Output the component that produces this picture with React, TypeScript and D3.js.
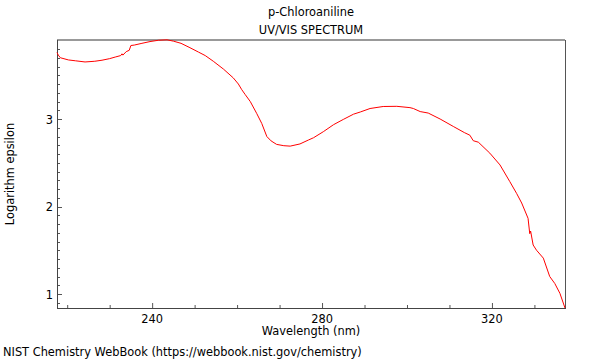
import { useEffect, useRef } from "react";
import * as d3 from "d3";

// wavelength (nm)
const wavelengths = [
  217.6, 217.9, 218.4, 220.3, 222.0, 224.2, 226.5, 228.2, 230.0, 231.3,
  232.6, 232.9, 233.1, 233.9, 234.6, 235.0, 235.8, 237.6, 239.5, 241.5,
  243.5, 245.0, 246.8, 248.9, 250.9, 252.5, 254.4, 256.8, 259.1, 260.3,
  261.1, 261.9, 263.1, 264.6, 265.8, 267.0, 268.0, 269.3, 271.0, 272.5,
  274.8, 276.8, 278.0, 280.3, 282.7, 285.0, 287.4, 289.0, 291.3, 294.4,
  297.6, 300.7, 301.5, 303.1, 305.0, 307.8, 310.9, 313.5, 314.8, 315.6,
  316.8, 319.5, 321.9, 324.2, 325.8, 327.0, 328.5, 328.9, 329.1, 329.7,
  330.5, 332.1, 333.6, 334.8, 336.0, 337.2,
];

// log(epsilon)
const logEpsilon = [
  3.76, 3.73, 3.70, 3.675, 3.665, 3.652, 3.66, 3.672, 3.69, 3.708,
  3.725, 3.745, 3.73, 3.77, 3.785, 3.84, 3.845, 3.865, 3.885, 3.9,
  3.905, 3.89, 3.865, 3.815, 3.765, 3.725, 3.66, 3.57, 3.47, 3.4,
  3.335, 3.28, 3.2, 3.065, 2.95, 2.8, 2.75, 2.71, 2.695, 2.69,
  2.715, 2.76, 2.786, 2.855, 2.935, 2.995, 3.055, 3.08, 3.12, 3.143,
  3.145, 3.13, 3.12, 3.085, 3.068, 3.0, 2.915, 2.845, 2.815, 2.752,
  2.735, 2.61, 2.475, 2.285, 2.15, 2.04, 1.865, 1.69, 1.72, 1.56,
  1.5, 1.41, 1.2, 1.12, 1.008, 0.84,
];

const xTicks = [240, 280, 320];
const yTicks = [1, 2, 3];
const titleLines = ["p-Chloroaniline", "UV/VIS SPECTRUM"];

export default function App() {
  const ref = useRef<SVGSVGElement>(null);

  useEffect(() => {
    const width = 600;
    const height = 360;
    const m = { top: 40, right: 35, bottom: 52, left: 57 };
    const font = "DejaVu Sans, sans-serif";
    const fs = 11.4;

    const svg = d3.select(ref.current)
      .attr("width", width)
      .attr("height", height);
    svg.selectAll("*").remove();

    const x = d3.scaleLinear()
      .domain([217.6, 337.2])
      .range([m.left, width - m.right]);
    const y = d3.scaleLinear()
      .domain([0.84, 3.903])
      .range([height - m.bottom, m.top]);

    const g = svg.append("g");

    // minor + major ticks, pointing inward
    const xMinor = d3.range(220, 337, 10);
    g.selectAll(".xt")
      .data(xMinor)
      .join("line")
      .attr("x1", d => x(d) + 0.5)
      .attr("x2", d => x(d) + 0.5)
      .attr("y1", height - m.bottom)
      .attr("y2", d => height - m.bottom - (xTicks.includes(d) ? 5 : 3))
      .attr("stroke", "#555");

    const yMinor = d3.range(9, 39).map(d => d / 10);
    g.selectAll(".yt")
      .data(yMinor)
      .join("line")
      .attr("y1", d => Math.round(y(d)) + 0.5)
      .attr("y2", d => Math.round(y(d)) + 0.5)
      .attr("x1", m.left)
      .attr("x2", d => m.left + (yTicks.includes(Math.round(d * 10) / 10) ? 5 : 3))
      .attr("stroke", "#555");

    // frame
    g.append("line")
      .attr("x1", m.left).attr("x2", width - m.right)
      .attr("y1", m.top).attr("y2", m.top)
      .attr("stroke", "#999").attr("stroke-width", 2);
    g.append("line")
      .attr("x1", m.left + 0.5).attr("x2", m.left + 0.5)
      .attr("y1", m.top).attr("y2", height - m.bottom)
      .attr("stroke", "#444");
    g.append("line")
      .attr("x1", width - m.right + 0.5).attr("x2", width - m.right + 0.5)
      .attr("y1", m.top).attr("y2", height - m.bottom)
      .attr("stroke", "#555");
    g.append("line")
      .attr("x1", m.left).attr("x2", width - m.right + 1)
      .attr("y1", height - m.bottom + 0.5).attr("y2", height - m.bottom + 0.5)
      .attr("stroke", "#444");

    // tick labels
    g.selectAll(".xl")
      .data(xTicks)
      .join("text")
      .attr("x", d => x(d))
      .attr("y", height - m.bottom + 15)
      .attr("text-anchor", "middle")
      .attr("font-family", font)
      .attr("font-size", fs)
      .text(d => d);

    g.selectAll(".yl")
      .data(yTicks)
      .join("text")
      .attr("x", m.left - 4)
      .attr("y", d => y(d) + 4.5)
      .attr("text-anchor", "end")
      .attr("font-family", font)
      .attr("font-size", fs)
      .text(d => d);

    // spectrum
    const pts = wavelengths.map((w, i) => [w, logEpsilon[i]] as [number, number]);
    const line = d3.line<[number, number]>()
      .x(d => x(d[0]))
      .y(d => y(d[1]));
    g.append("path")
      .datum(pts)
      .attr("d", line)
      .attr("fill", "none")
      .attr("stroke", "#ff0000")
      .attr("stroke-width", 1);

    // titles and labels
    const cx = (m.left + width - m.right) / 2;
    titleLines.forEach((t, i) => {
      svg.append("text")
        .attr("x", cx)
        .attr("y", 16 + i * 18)
        .attr("text-anchor", "middle")
        .attr("font-family", font)
        .attr("font-size", fs)
        .text(t);
    });

    svg.append("text")
      .attr("x", cx)
      .attr("y", 335)
      .attr("text-anchor", "middle")
      .attr("font-family", font)
      .attr("font-size", fs)
      .text("Wavelength (nm)");

    svg.append("text")
      .attr("transform", `translate(14,${(m.top + height - m.bottom) / 2}) rotate(-90)`)
      .attr("text-anchor", "middle")
      .attr("font-family", font)
      .attr("font-size", fs)
      .text("Logarithm epsilon");

    svg.append("text")
      .attr("x", 3)
      .attr("y", 356)
      .attr("font-family", font)
      .attr("font-size", fs)
      .text("NIST Chemistry WebBook (https://webbook.nist.gov/chemistry)");
  }, []);

  return (
    <svg ref={ref} style={{ position: "absolute", left: 0, top: 0 }}></svg>
  );
}
